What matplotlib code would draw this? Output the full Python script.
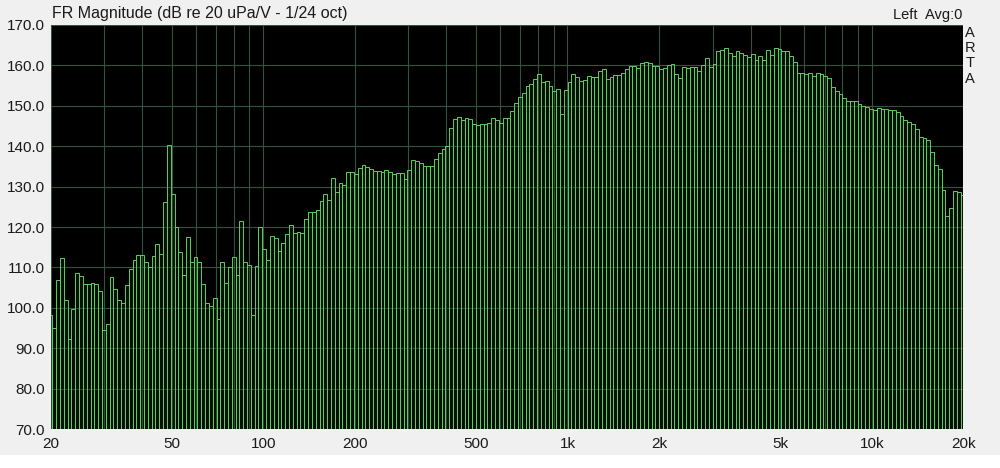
import numpy as np
import matplotlib.pyplot as plt
from matplotlib.patches import Rectangle
from matplotlib.ticker import FixedLocator, NullFormatter

# 1/24 octave levels in dB
level_20_100 = [98.3, 95.1, 106.9, 112.4, 101.9, 92.3, 99.7, 108.7, 107.9, 105.8,
                105.9, 106.2, 105.9, 104.2, 94.5, 96.1, 107.7, 104.7, 101.9, 101.3,
                105.7, 109.5, 111.8, 113.1, 113.1, 111.3, 110.2, 112.7, 115.7, 113.3,
                126.3, 140.4, 128.1, 119.9, 113.9, 108.1, 117.6, 111.4, 112.5, 111.4,
                105.9, 101.1, 100.5, 102.5, 97.2, 111.3, 106.2, 110.0, 112.5, 108.1,
                121.6, 111.4, 110.5, 98.1, 110.4, 120.0]
level_100_1k = [114.6, 111.8, 117.8, 117.4, 114.1, 116.0, 118.2, 120.6, 118.4, 118.8,
                118.4, 122.0, 123.7, 123.7, 124.2, 126.5, 128.1, 126.8, 132.2, 128.6,
                130.9, 130.4, 133.5, 133.5, 133.1, 134.7, 135.4, 134.9, 134.3, 133.8,
                133.8, 133.7, 134.2, 133.5, 133.0, 133.3, 133.4, 132.0, 134.0, 136.6,
                136.3, 135.8, 135.1, 135.2, 135.2, 136.8, 138.4, 139.4, 140.1, 144.5,
                146.8, 147.2, 146.5, 147.0, 146.8, 145.5, 145.3, 145.5, 145.5, 145.8,
                147.0, 146.5, 145.7, 147.1, 147.0, 148.6, 150.8, 152.1, 153.1, 154.8,
                155.3, 156.6, 157.8, 155.8, 156.2, 154.8, 153.7, 154.1, 147.9, 154.0]
level_1k_20k = [155.8, 157.8, 157.2, 156.2, 156.4, 157.4, 157.2, 157.2, 158.6, 159.0,
                156.7, 157.2, 157.5, 157.6, 158.2, 159.0, 159.8, 159.8, 159.3, 160.7,
                160.9, 160.5, 159.9, 159.8, 159.0, 159.4, 160.2, 160.3, 157.8, 156.8,
                159.5, 159.4, 159.7, 159.7, 158.5, 160.1, 161.8, 159.7, 160.3, 163.6,
                163.8, 164.2, 163.0, 162.4, 163.5, 163.0, 162.5, 162.2, 162.8, 161.3,
                162.3, 161.3, 163.9, 162.6, 164.2, 164.0, 163.6, 163.6, 162.3, 160.8,
                158.0, 158.2, 157.9, 158.2, 157.4, 158.0, 157.9, 157.4, 156.8, 154.6,
                153.7, 152.9, 152.0, 151.1, 151.2, 151.2, 150.5, 150.0, 149.6, 149.2,
                149.0, 149.4, 149.3, 149.2, 148.9, 148.9, 148.5, 147.4, 146.6, 146.0,
                145.4, 144.2, 142.4, 142.1, 141.6, 138.6, 135.4, 134.4, 129.2, 122.8,
                124.7, 128.8, 128.6, 128.0, 127.8]

xtick_vals = [20, 50, 100, 200, 500, 1000, 2000, 5000, 10000, 20000]
xtick_labels = ['20', '50', '100', '200', '500', '1k', '2k', '5k', '10k', '20k']
ytick_vals = [70, 80, 90, 100, 110, 120, 130, 140, 150, 160, 170]

levels = np.array(level_20_100 + level_100_1k + level_1k_20k)
# band centres 20 Hz .. 20 kHz in 1/24 octave steps
freqs = 20 * 2 ** (np.arange(len(levels)) / 24)
f_lo = freqs * 2 ** (-1 / 48)
f_hi = freqs * 2 ** (1 / 48)

plt.rcParams['font.family'] = ['Liberation Sans', 'DejaVu Sans']

fig = plt.figure(figsize=(10, 4.68), dpi=100, facecolor='#f0f0f0')
fig.patches.append(Rectangle((0, 0), 1, 13 / 468, transform=fig.transFigure,
                             facecolor='white', edgecolor='none', zorder=0))
ax = fig.add_axes([0.0505, 0.0833, 0.9128, 0.8633])
ax.set_facecolor('black')

ax.set_xscale('log')
ax.set_xlim(20, 20000)
ax.set_ylim(70, 170)

# grid under the bars
minor = [f * m for f in (10, 100, 1000, 10000) for m in range(2, 10)]
minor = [f for f in minor if 20 <= f <= 20000]
ax.xaxis.set_major_locator(FixedLocator(xtick_vals))
ax.xaxis.set_minor_locator(FixedLocator(minor))
ax.xaxis.set_minor_formatter(NullFormatter())
ax.set_xticklabels(xtick_labels)
ax.set_yticks(ytick_vals)
ax.set_yticklabels(['%.1f' % v for v in ytick_vals])
ax.grid(True, which='both', axis='x', color='#34533a', linewidth=0.8)
ax.grid(True, which='major', axis='y', color='#34533a', linewidth=0.8)
ax.set_axisbelow(True)

ax.bar(f_lo, levels - 70, width=f_hi - f_lo, bottom=70, align='edge',
       facecolor=(0.06, 0.2, 0.06, 0.3), edgecolor='#5cce5c', linewidth=0.7)

ax.tick_params(which='both', length=0, labelsize=11, colors='#1a1a1a')
ax.tick_params(axis='x', pad=6)
ax.tick_params(axis='y', pad=4)
for s in ax.spines.values():
    s.set_visible(False)

fig.text(0.052, 0.972, 'FR Magnitude (dB re 20 uPa/V - 1/24 oct)', fontsize=11.5,
         va='center', ha='left', color='#1a1a1a')
fig.text(0.962, 0.968, 'Left  Avg:0', fontsize=10.5, va='center', ha='right',
         color='#1a1a1a')
for i, ch in enumerate('ARTA'):
    fig.text(0.970, 1 - (33 + 15.2 * i) / 468, ch, fontsize=10.5, va='center',
             ha='center', color='#1a1a1a')

fig.savefig('out.png', dpi=100, facecolor=fig.get_facecolor())
